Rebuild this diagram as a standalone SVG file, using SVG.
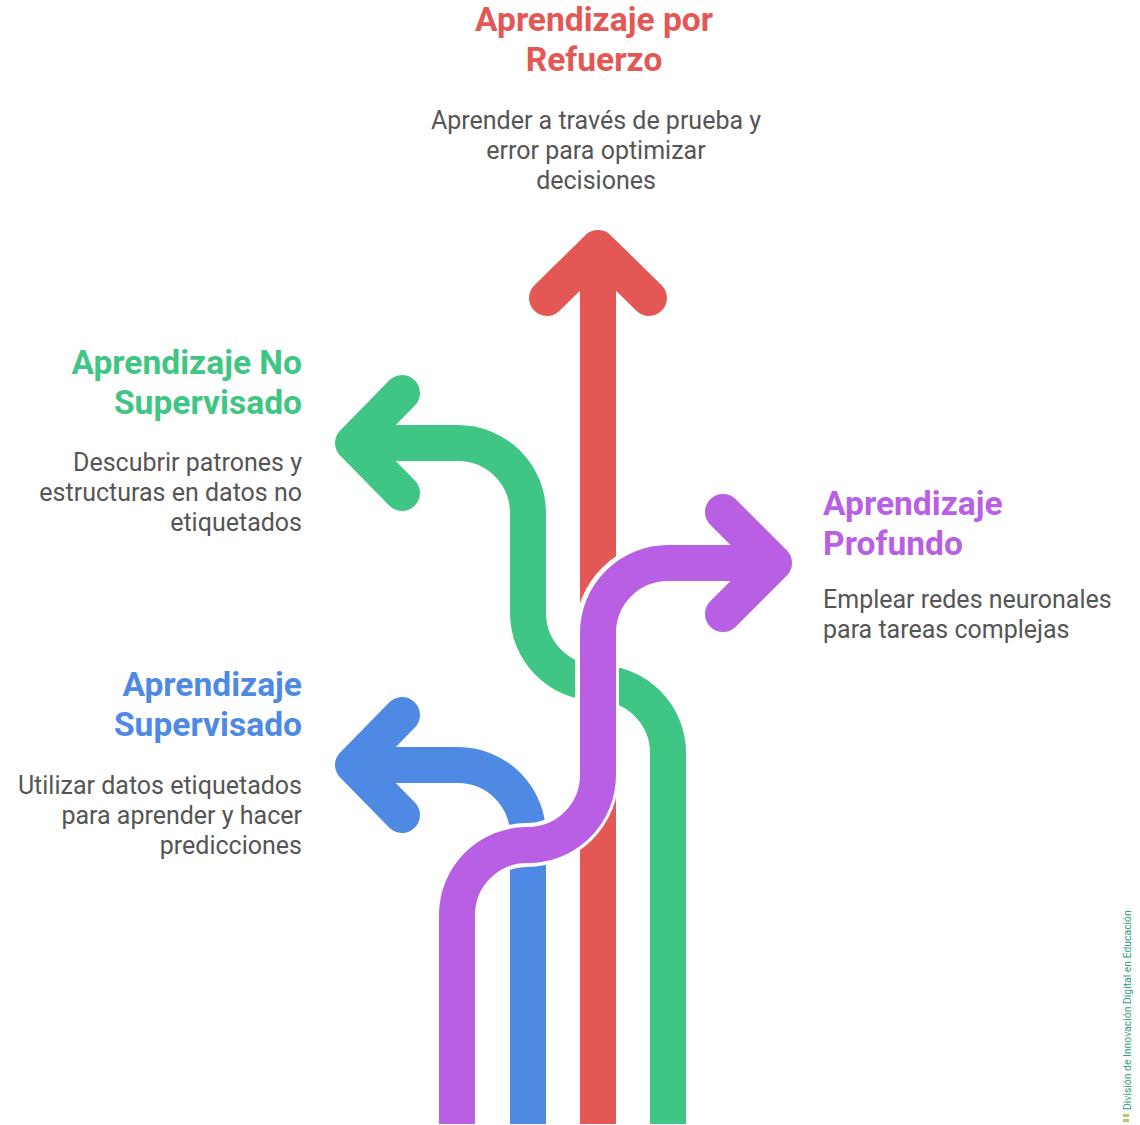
<svg xmlns="http://www.w3.org/2000/svg" width="1140" height="1125" viewBox="0 0 1140 1125">
<style>
.t{font-family:Roboto,"Liberation Sans",sans-serif;font-weight:700;font-size:33.6px}
.d{font-family:Roboto,"Liberation Sans",sans-serif;font-weight:400;font-size:25px;fill:#555555}
.s{fill:none;stroke-width:36;stroke-linejoin:round;stroke-linecap:round}
.b{fill:none;stroke-width:36}
.red{stroke:#E35855}.grn{stroke:#3FC584}.blu{stroke:#4E89E4}.pur{stroke:#B85FE3}
.r{text-anchor:end}.c{text-anchor:middle}
</style>
<rect width="1140" height="1125" fill="#ffffff"/>
<g id="connectors">
  <g id="path-refuerzo">
    <path class="b red" d="M598,1124 V260"/>
    <path class="s red" d="M547,298 L598,248 L649,298"/>
  </g>
  <g id="path-no-supervisado">
    <path class="b grn" d="M668,1124 V753 A70,70 0 0 0 598,683 A70,70 0 0 1 528,613 V513 A70,70 0 0 0 458,443 H365"/>
    <path class="s grn" d="M402,393 L353,443 L402,493"/>
  </g>
  <g id="path-supervisado">
    <path class="b blu" d="M528,1124 V835 A70,70 0 0 0 458,765 H365"/>
    <path class="s blu" d="M402,715 L353,765 L402,815"/>
  </g>
  <g id="path-profundo">
    <path fill="none" stroke="#ffffff" stroke-width="44" d="M457,1124 V915 A70,70 0 0 1 527,845 A70,70 0 0 0 597,775 V633 A70,70 0 0 1 668,563 H760"/>
    <path class="b pur" d="M457,1124 V915 A70,70 0 0 1 527,845 A70,70 0 0 0 598,775 V633 A70,70 0 0 1 668,563 H762"/>
    <path class="s pur" d="M723,512 L774,563 L723,614"/>
  </g>
</g>
<g id="node-refuerzo">
  <text class="t c" fill="#E35855" x="594" y="31">Aprendizaje por</text>
  <text class="t c" fill="#E35855" x="594" y="71">Refuerzo</text>
  <text class="d c" x="596" y="129">Aprender a través de prueba y</text>
  <text class="d c" x="596" y="159">error para optimizar</text>
  <text class="d c" x="596" y="189">decisiones</text>
</g>
<g id="node-no-supervisado">
  <text class="t r" fill="#3FC584" x="302" y="374">Aprendizaje No</text>
  <text class="t r" fill="#3FC584" x="302" y="414">Supervisado</text>
  <text class="d r" x="302" y="471">Descubrir patrones y</text>
  <text class="d r" x="302" y="501">estructuras en datos no</text>
  <text class="d r" x="302" y="531">etiquetados</text>
</g>
<g id="node-profundo">
  <text class="t" fill="#B85FE3" x="823" y="515">Aprendizaje</text>
  <text class="t" fill="#B85FE3" x="823" y="555">Profundo</text>
  <text class="d" x="823" y="608">Emplear redes neuronales</text>
  <text class="d" x="823" y="638">para tareas complejas</text>
</g>
<g id="node-supervisado">
  <text class="t r" fill="#4E89E4" x="302" y="696">Aprendizaje</text>
  <text class="t r" fill="#4E89E4" x="302" y="736">Supervisado</text>
  <text class="d r" x="302" y="794">Utilizar datos etiquetados</text>
  <text class="d r" x="302" y="824">para aprender y hacer</text>
  <text class="d r" x="302" y="854">predicciones</text>
</g>
<g id="watermark">
  <rect x="1123" y="1114" width="6" height="3" fill="#b9c46a"/>
  <rect x="1123" y="1119" width="6" height="3" fill="#b9c46a"/>
  <text transform="translate(1131,1110) rotate(-90)" font-family="Roboto,'Liberation Sans',sans-serif" font-size="10.4" fill="#2f9a86">División de Innovación Digital en Educación</text>
</g>
</svg>
